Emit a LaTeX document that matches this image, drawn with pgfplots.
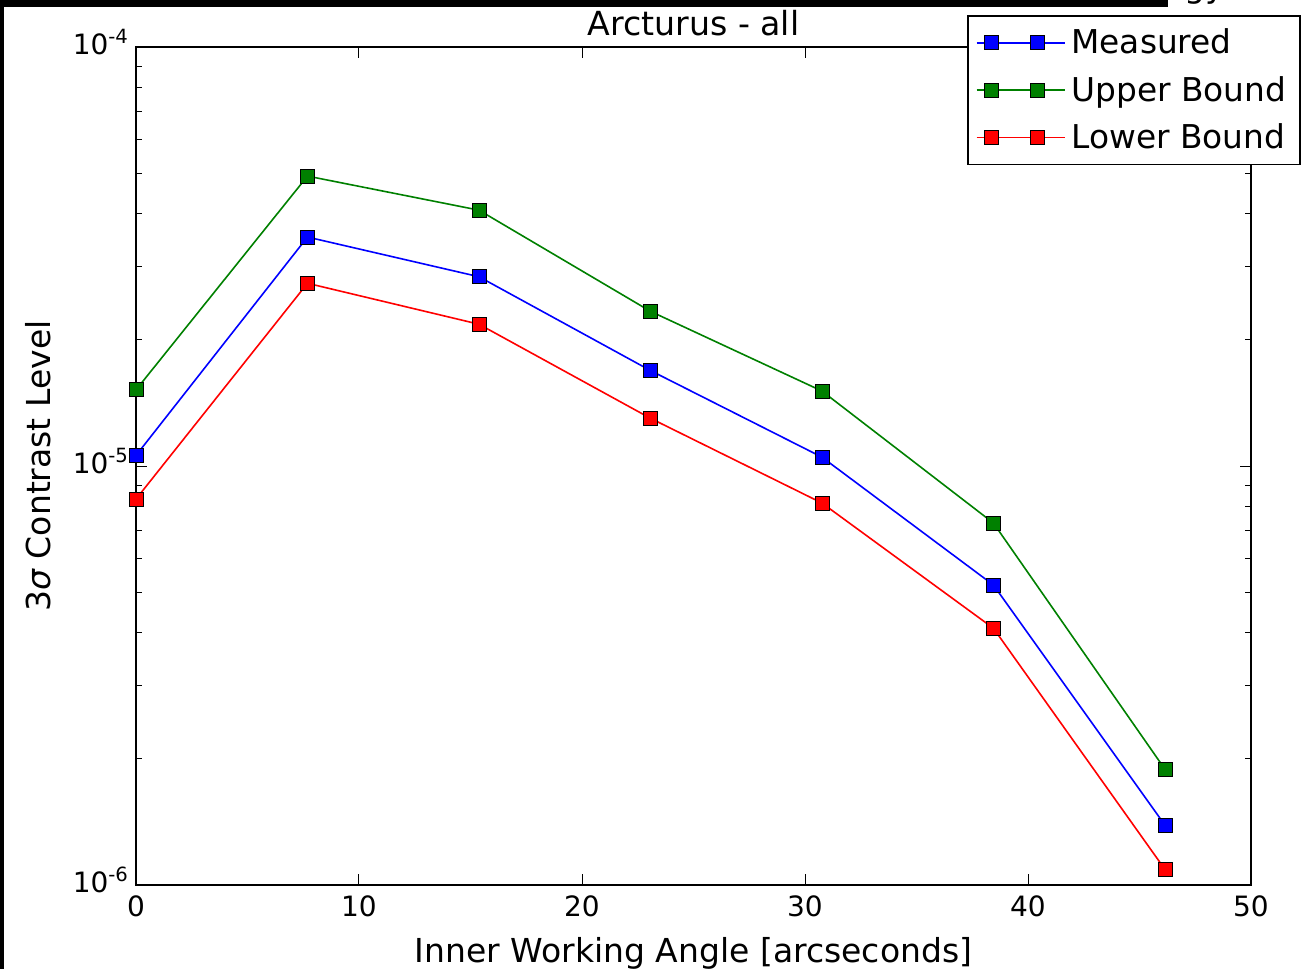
\documentclass[border=0pt]{standalone}
\usepackage{pgfplots}
\pgfplotsset{compat=1.18}
\usepackage{fontspec}
\setmainfont{DejaVu Sans}
\definecolor{mplgreen}{rgb}{0,0.5,0}
\pgfplotstableread{
x y
0 1.06e-5
7.69 3.52e-5
15.38 2.83e-5
23.07 1.69e-5
30.76 1.05e-5
38.45 5.20e-6
46.14 1.39e-6
}\measuredtab
\pgfplotstableread{
x y
0 1.52e-5
7.69 4.92e-5
15.38 4.08e-5
23.07 2.34e-5
30.76 1.51e-5
38.45 7.31e-6
46.14 1.89e-6
}\uppertab
\pgfplotstableread{
x y
0 8.34e-6
7.69 2.73e-5
15.38 2.18e-5
23.07 1.30e-5
30.76 8.16e-6
38.45 4.10e-6
46.14 1.09e-6
}\lowertab
\begin{document}
\begin{tikzpicture}
\useasboundingbox (-68pt,-42pt) rectangle (585pt,442.5pt);
\begin{axis}[
  at={(0pt,0pt)}, anchor=south west,
  scale only axis, width=557.5pt, height=419pt,
  xmin=0, xmax=50, ymode=log, ymin=1e-6, ymax=1e-4,
  xtick={0,10,20,30,40,50},
  ytick={1e-6,1e-5,1e-4},
  yticklabels={10\textsuperscript{-6},10\textsuperscript{-5},10\textsuperscript{-4}},
  /pgf/number format/assume math mode=true,
  ticklabel style={font=\fontsize{14}{16}\selectfont},
  xticklabel style={yshift=-2pt},
  yticklabel style={yshift=2.5pt},
  axis line style={line width=1pt},
  major tick length=5.5pt, minor tick length=3pt,
  every tick/.style={black, line width=0.5pt},
  title={Arcturus - all},
  title style={font=\fontsize{16.6}{19}\selectfont, yshift=-4pt},
  xlabel={Inner Working Angle [arcseconds]},
  ylabel={3{\itshape σ} Contrast Level},
  label style={font=\fontsize{16.5}{19}\selectfont},
  xlabel style={yshift=-3pt},
  ylabel style={yshift=4pt},
  legend style={at={(1.0448,1.0382)}, anchor=north east, draw=black, line width=0.8pt,
    font=\fontsize{16.4}{19}\selectfont, row sep=3.75pt, inner xsep=4pt, inner ysep=3.5pt,
    nodes={inner sep=3pt}},
  legend cell align=left,
  legend image code/.code={\path (-7.5pt,0pt) -- (36.5pt,0pt);\draw[#1] plot coordinates {(0pt,0pt) (23pt,0pt)};},
]
\addplot[blue, line width=0.8pt, mark=square*, mark size=3.5pt, mark options={fill=blue, draw=black, line width=0.4pt}] table[x=x,y=y] {\measuredtab};
\addlegendentry{Measured}
\addplot[mplgreen, line width=0.8pt, mark=square*, mark size=3.5pt, mark options={fill=mplgreen, draw=black, line width=0.4pt}] table[x=x,y=y] {\uppertab};
\addlegendentry{Upper Bound}
\addplot[red, line width=0.8pt, mark=square*, mark size=3.5pt, mark options={fill=red, draw=black, line width=0.4pt}] table[x=x,y=y] {\lowertab};
\addlegendentry{Lower Bound}
\end{axis}
\fill[black] (-68pt,442.5pt) rectangle (516pt,439pt);
\fill[black] (-68pt,-42pt) rectangle (-66pt,442.5pt);
\node[anchor=base, font=\fontsize{16.5}{19}\selectfont, inner sep=0pt] at (534.5pt,443.5pt) {gy};
\end{tikzpicture}
\end{document}
